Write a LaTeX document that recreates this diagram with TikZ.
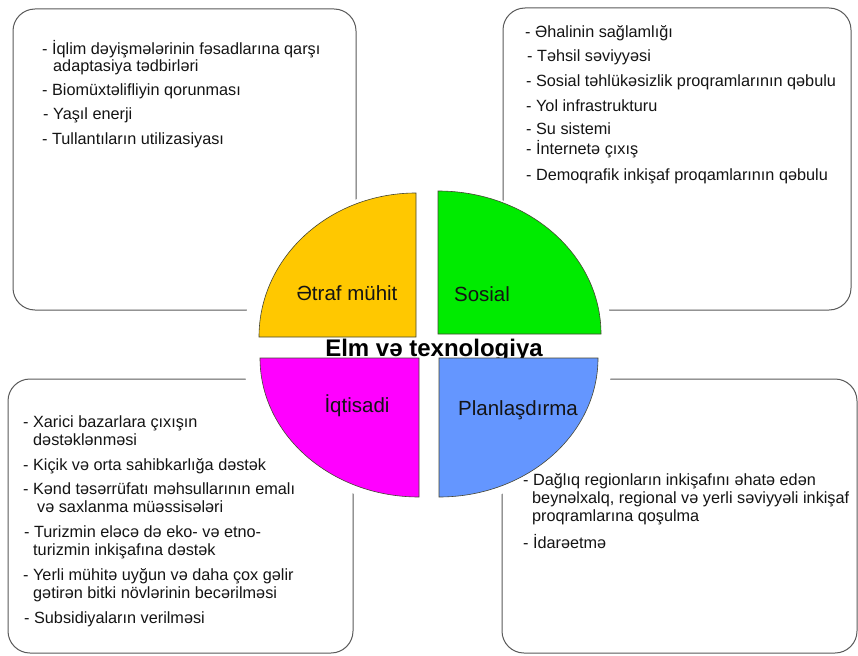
\documentclass[tikz,border=0pt]{standalone}
\usepackage{fontspec}
\setmainfont{Liberation Sans}
\definecolor{qyel}{RGB}{255,200,0}
\definecolor{qgrn}{RGB}{0,235,0}
\definecolor{qmag}{RGB}{255,0,255}
\definecolor{qblu}{RGB}{100,150,255}
\definecolor{qedge}{RGB}{70,70,50}
\definecolor{boxedge}{RGB}{90,90,90}
\definecolor{txt}{RGB}{20,20,20}
\begin{document}
\begin{tikzpicture}[x=1pt,y=-1pt,
  infobox/.style={draw=boxedge, line width=1pt, rounded corners=22pt},
  quad/.style={draw=qedge, line width=0.6pt},
  itemtext/.style={anchor=base west, inner sep=0pt, text=txt, font=\fontsize{16.25}{18}\selectfont},
  quadlabel/.style={anchor=base, inner sep=0pt, text=txt, font=\fontsize{20.5}{22}\selectfont},
  centertitle/.style={anchor=base, inner sep=0pt, text=black, font=\fontsize{24}{26}\selectfont\bfseries}]
\useasboundingbox (0,0) rectangle (858,655);
\fill[white] (0,0) rectangle (858,655);

% boxes
\draw[infobox] (13,9) rectangle (356,310);
\draw[infobox] (503,8) rectangle (851,310);
\draw[infobox] (8,379) rectangle (353,653);
\draw[infobox] (502,379) rectangle (857,653);

% white disc behind the quadrants
\fill[white] (428,347) ellipse [x radius=186pt, y radius=160pt];

% centre title (drawn before quadrants so they cover its descenders)
\node[centertitle] (title) at (434,356) {Elm və texnologiya};

% quadrants
\filldraw[quad, fill=qyel] (416,337) -- (259,337) arc[start angle=180, end angle=90, x radius=157pt, y radius=144pt] -- cycle;
\filldraw[quad, fill=qgrn] (438,334) -- (601,334) arc[start angle=0, end angle=90, x radius=163pt, y radius=143pt] -- cycle;
\filldraw[quad, fill=qmag] (419,358) -- (260,358) arc[start angle=180, end angle=270, x radius=159pt, y radius=139pt] -- cycle;
\filldraw[quad, fill=qblu] (439,358) -- (598,358) arc[start angle=0, end angle=-90, x radius=159pt, y radius=139pt] -- cycle;

% quadrant labels
\node[quadlabel] (env) at (347,300) {Ətraf mühit};
\node[quadlabel] (soc) at (482,301) {Sosial};
\node[quadlabel] (eco) at (357,412) {İqtisadi};
\node[quadlabel] (plan) at (518,415) {Planlaşdırma};

% top-left text
\node[itemtext] (tl1) at (42,55) {- İqlim dəyişmələrinin fəsadlarına qarşı};
\node[itemtext] (tl2) at (53,72) {adaptasiya tədbirləri};
\node[itemtext] (tl3) at (42,96) {- Biomüxtəlifliyin qorunması};
\node[itemtext] (tl4) at (43,120) {- Yaşıl enerji};
\node[itemtext] (tl5) at (42,145) {- Tullantıların utilizasiyası};

% top-right text
\node[itemtext] (tr1) at (525,38) {- Əhalinin sağlamlığı};
\node[itemtext] (tr2) at (527,62) {- Təhsil səviyyəsi};
\node[itemtext] (tr3) at (526,87) {- Sosial təhlükəsizlik proqramlarının qəbulu};
\node[itemtext] (tr4) at (526,112) {- Yol infrastrukturu};
\node[itemtext] (tr5) at (526,135) {- Su sistemi};
\node[itemtext] (tr6) at (526,155) {- İnternetə çıxış};
\node[itemtext] (tr7) at (526,180) {- Demoqrafik inkişaf proqamlarının qəbulu};

% bottom-left text
\node[itemtext] (bl1) at (23,427) {- Xarici bazarlara çıxışın};
\node[itemtext] (bl2) at (33,445) {dəstəklənməsi};
\node[itemtext] (bl3) at (23,470) {- Kiçik və orta sahibkarlığa dəstək};
\node[itemtext] (bl4) at (23,494) {- Kənd təsərrüfatı məhsullarının emalı};
\node[itemtext] (bl5) at (37,512) {və saxlanma müəssisələri};
\node[itemtext] (bl6) at (24,537) {- Turizmin eləcə də eko- və etno-};
\node[itemtext] (bl7) at (33,555) {turizmin inkişafına dəstək};
\node[itemtext] (bl8) at (23,580) {- Yerli mühitə uyğun və daha çox gəlir};
\node[itemtext] (bl9) at (33,598) {gətirən bitki növlərinin becərilməsi};
\node[itemtext] (bl10) at (24,623) {- Subsidiyaların verilməsi};

% bottom-right text
\node[itemtext] (br1) at (523,485) {- Dağlıq regionların inkişafını əhatə edən};
\node[itemtext] (br2) at (532,503) {beynəlxalq, regional və yerli səviyyəli inkişaf};
\node[itemtext] (br3) at (532,521) {proqramlarına qoşulma};
\node[itemtext] (br4) at (523,548) {- İdarəetmə};
\end{tikzpicture}
\end{document}
